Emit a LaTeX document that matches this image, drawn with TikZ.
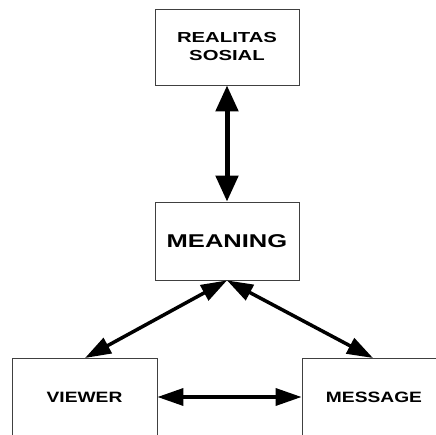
\documentclass[tikz,border=0pt]{standalone}
\usepackage{fontspec}
\usepackage{graphicx}
\setmainfont{Liberation Sans}
\usetikzlibrary{arrows.meta}
\begin{document}
\begin{tikzpicture}[x=1pt,y=-1pt,
  box/.style={draw=black!75,line width=0.8pt,fill=white,inner sep=0pt,align=center},
  bigarrow/.style={line width=5pt,{Triangle[length=26pt,width=22pt]}-{Triangle[length=26pt,width=22pt]}},
  arr/.style={line width=3.5pt,{Triangle[length=26pt,width=17pt]}-{Triangle[length=26pt,width=17pt]}}]
\useasboundingbox (0,0) rectangle (436,435);
\clip (0,0) rectangle (436,435);
\node[box,minimum width=144pt,minimum height=76pt,font={\fontsize{14.5}{18}\selectfont\bfseries}] (real) at (227,47)
  {\scalebox{1.4}[1]{REALITAS}\\\scalebox{1.4}[1]{SOSIAL}};
\node[box,minimum width=144pt,minimum height=78pt,font={\fontsize{18.5}{22}\selectfont\bfseries}] (mean) at (227,241)
  {\scalebox{1.38}[1]{MEANING}};
\node[box,minimum width=145pt,minimum height=78pt,font={\fontsize{15}{18}\selectfont\bfseries}] (view) at (84.5,397)
  {\scalebox{1.28}[1]{VIEWER}};
\node[box,minimum width=144pt,minimum height=78pt,font={\fontsize{15}{18}\selectfont\bfseries}] (mess) at (374,397)
  {\scalebox{1.28}[1]{MESSAGE}};
\coordinate (vt) at (85,358);
\coordinate (mt) at (373,358);
\draw[bigarrow] (real.south) -- (mean.north);
\draw[arr] (mean.south) -- (vt);
\draw[arr] (mean.south) -- (mt);
\draw[arr] (view.east) -- (mess.west);
\end{tikzpicture}
\end{document}
